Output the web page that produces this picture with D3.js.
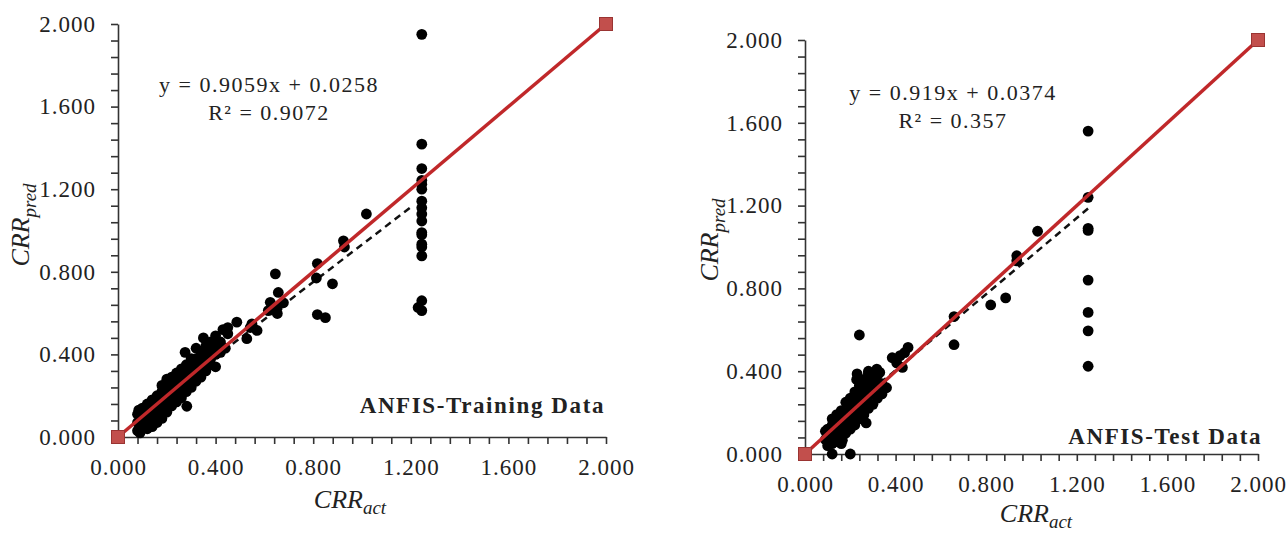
<!DOCTYPE html>
<html>
<head>
<meta charset="utf-8">
<script src="https://cdnjs.cloudflare.com/ajax/libs/d3/7.8.5/d3.min.js"></script>
<style>
  body { margin: 0; background: #fff; }
  text { font-family: "Liberation Serif", "DejaVu Serif", serif; fill: #222; }
</style>
</head>
<body>
<div id="chart"></div>
<script>
// Axis ticks (same for both panels)
var tickValues = [0, 0.4, 0.8, 1.2, 1.6, 2.0];
var tickLabels = ["0.000", "0.400", "0.800", "1.200", "1.600", "2.000"];

// 1:1 reference line (red, square markers at both ends)
var idealLine = [[0, 0], [2, 2]];

// ANFIS training data [CRR_act, CRR_pred]
var trainPoints = [
    [0.08, 0.03], [0.08, 0.07], [0.08, 0.11], [0.085, 0.13], [0.09, 0.02],
    [0.10, 0.04], [0.10, 0.08], [0.10, 0.12], [0.10, 0.14],
    [0.12, 0.04], [0.12, 0.07], [0.12, 0.10], [0.12, 0.13], [0.12, 0.16],
    [0.14, 0.05], [0.14, 0.08], [0.14, 0.11], [0.14, 0.14], [0.14, 0.18],
    [0.16, 0.07], [0.16, 0.10], [0.16, 0.13], [0.16, 0.16], [0.16, 0.20],
    [0.18, 0.09], [0.18, 0.12], [0.18, 0.15], [0.18, 0.18], [0.18, 0.22], [0.18, 0.25],
    [0.20, 0.12], [0.20, 0.15], [0.20, 0.18], [0.20, 0.21], [0.20, 0.24], [0.20, 0.28],
    [0.22, 0.15], [0.22, 0.18], [0.22, 0.22], [0.22, 0.26], [0.22, 0.29],
    [0.24, 0.17], [0.24, 0.20], [0.24, 0.24], [0.24, 0.28], [0.24, 0.31],
    [0.26, 0.19], [0.26, 0.22], [0.26, 0.26], [0.26, 0.30], [0.26, 0.33],
    [0.28, 0.22], [0.28, 0.25], [0.28, 0.29], [0.28, 0.32], [0.28, 0.35], [0.275, 0.41],
    [0.30, 0.24], [0.30, 0.27], [0.30, 0.31], [0.30, 0.34], [0.30, 0.38],
    [0.32, 0.27], [0.32, 0.30], [0.32, 0.34], [0.32, 0.38], [0.32, 0.43],
    [0.34, 0.29], [0.34, 0.33], [0.34, 0.37], [0.34, 0.41],
    [0.36, 0.32], [0.36, 0.35], [0.36, 0.40], [0.36, 0.44], [0.35, 0.48],
    [0.38, 0.35], [0.38, 0.38], [0.38, 0.43], [0.38, 0.46],
    [0.40, 0.34], [0.40, 0.40], [0.40, 0.44], [0.40, 0.49],
    [0.42, 0.41], [0.42, 0.46], [0.43, 0.52],
    [0.44, 0.43], [0.45, 0.50], [0.45, 0.53],
    [0.282, 0.149],
    [0.487, 0.556], [0.549, 0.548], [0.57, 0.516], [0.528, 0.476], [0.542, 0.53],
    [0.616, 0.612], [0.653, 0.627], [0.678, 0.65], [0.653, 0.598], [0.624, 0.652],
    [0.645, 0.79], [0.657, 0.70],
    [0.817, 0.84], [0.813, 0.77], [0.879, 0.742], [0.817, 0.593], [0.85, 0.578],
    [0.924, 0.95], [0.928, 0.92], [1.018, 1.08],
    [1.245, 1.95], [1.245, 1.418], [1.245, 1.30], [1.245, 1.243], [1.245, 1.224],
    [1.245, 1.20], [1.245, 1.142], [1.245, 1.11], [1.245, 1.08], [1.245, 1.046],
    [1.245, 0.99], [1.245, 0.98], [1.245, 0.934], [1.245, 0.92], [1.245, 0.877],
    [1.245, 0.66], [1.23, 0.627], [1.245, 0.612]
];

// ANFIS test data [CRR_act, CRR_pred]
var testPoints = [
    [0.09, 0.07], [0.09, 0.11],
    [0.10, 0.04], [0.10, 0.08], [0.10, 0.12],
    [0.12, 0.05], [0.12, 0.09], [0.12, 0.14], [0.12, 0.17],
    [0.14, 0.06], [0.14, 0.10], [0.14, 0.15], [0.14, 0.19],
    [0.16, 0.08], [0.16, 0.12], [0.16, 0.17], [0.16, 0.21],
    [0.18, 0.10], [0.18, 0.15], [0.18, 0.20], [0.18, 0.25],
    [0.20, 0.12], [0.20, 0.17], [0.20, 0.22], [0.20, 0.27],
    [0.22, 0.14], [0.22, 0.20], [0.22, 0.25], [0.22, 0.30],
    [0.24, 0.17], [0.24, 0.22], [0.24, 0.28], [0.24, 0.33],
    [0.26, 0.19], [0.26, 0.25], [0.26, 0.31], [0.26, 0.36],
    [0.28, 0.22], [0.28, 0.28], [0.28, 0.34], [0.28, 0.39],
    [0.30, 0.24], [0.30, 0.30], [0.30, 0.36],
    [0.32, 0.27], [0.32, 0.33], [0.32, 0.38],
    [0.34, 0.29], [0.34, 0.34], [0.36, 0.32],
    [0.12, 0.0], [0.20, 0.0], [0.165, 0.066], [0.16, 0.05], [0.27, 0.15],
    [0.228, 0.36], [0.23, 0.387], [0.28, 0.40], [0.317, 0.41], [0.33, 0.394],
    [0.24, 0.575],
    [0.405, 0.44], [0.42, 0.475], [0.455, 0.515], [0.43, 0.418], [0.385, 0.465], [0.44, 0.49],
    [0.658, 0.664], [0.658, 0.528], [0.82, 0.72], [0.886, 0.754],
    [0.935, 0.958], [0.935, 0.933], [1.027, 1.076],
    [1.25, 1.56], [1.25, 1.24], [1.25, 1.09], [1.25, 1.08],
    [1.25, 0.84], [1.25, 0.684], [1.25, 0.595], [1.25, 0.424]
];

// Linear trendlines: [slope, intercept, xStart, xEnd]
var trainFit = [0.9059, 0.0258, 0.08, 1.21];
var testFit = [0.919, 0.0374, 0.09, 1.25];

var trainEquation = ["y = 0.9059x + 0.0258", "R² = 0.9072"];
var testEquation = ["y = 0.919x + 0.0374", "R² = 0.357"];

var svgWidth = 1288;
var svgHeight = 534;

var svg = d3.select("#chart")
    .append("svg")
    .attr("width", svgWidth)
    .attr("height", svgHeight);

svg.append("rect").attr("width", svgWidth).attr("height", svgHeight).attr("fill", "#fff");

var minorTicks = d3.range(0, 2.0001, 0.08);

function drawPanel(p) {
    var xScale = d3.scaleLinear().domain([0, 2]).range([p.left, p.right]);
    var yScale = d3.scaleLinear().domain([0, 2]).range([p.bottom, p.top]);

    function fmt(d) {
        var i = tickValues.findIndex(t => Math.abs(t - d) < 1e-6);
        return i >= 0 ? tickLabels[i] : "";
    }

    // axes
    var leftAxis = d3.axisLeft(yScale)
        .tickValues(minorTicks).tickFormat(fmt)
        .tickSize(7).tickSizeOuter(0).tickPadding(15);
    var bottomAxis = d3.axisBottom(xScale)
        .tickValues(minorTicks).tickFormat(fmt)
        .tickSize(7).tickSizeOuter(0).tickPadding(p.xPad);

    var gy = svg.append("g")
        .attr("transform", "translate(" + p.left + ",0)")
        .call(leftAxis);
    var gx = svg.append("g")
        .attr("transform", "translate(0," + p.bottom + ")")
        .call(bottomAxis);

    [gx, gy].forEach(function (g) {
        g.selectAll("path, line").attr("stroke", "#333").attr("stroke-width", 1.6);
        g.selectAll("text")
            .style("font-family", "'Liberation Serif', serif")
            .style("font-size", "23px")
            .style("letter-spacing", "1px")
            .attr("fill", "#222");
    });

    // trendline (dashed)
    var fit = p.fit;
    svg.append("line")
        .attr("x1", xScale(fit[2])).attr("y1", yScale(fit[0] * fit[2] + fit[1]))
        .attr("x2", xScale(fit[3])).attr("y2", yScale(fit[0] * fit[3] + fit[1]))
        .attr("stroke", "#111").attr("stroke-width", 2.5)
        .attr("stroke-dasharray", "7,5");

    // points
    svg.append("g").selectAll("circle")
        .data(p.points)
        .enter()
        .append("circle")
        .attr("cx", d => xScale(d[0]))
        .attr("cy", d => yScale(d[1]))
        .attr("r", 5.4)
        .attr("fill", "#000");

    // 1:1 line with square markers
    svg.append("path")
        .datum(idealLine)
        .attr("d", d3.line().x(d => xScale(d[0])).y(d => yScale(d[1])))
        .attr("stroke", "#c0282a").attr("stroke-width", 3.5).attr("fill", "none");

    svg.append("g").selectAll("rect")
        .data(idealLine)
        .enter()
        .append("rect")
        .attr("x", d => xScale(d[0]) - 6.5)
        .attr("y", d => yScale(d[1]) - 6.5)
        .attr("width", 13).attr("height", 13)
        .attr("fill", "#c24f4c").attr("stroke", "#9a3432").attr("stroke-width", 1);

    // equation
    svg.selectAll(null)
        .data(p.equation)
        .enter()
        .append("text")
        .attr("x", p.eqX).attr("y", (d, i) => p.eqY + i * 28)
        .attr("text-anchor", "middle")
        .style("font-size", "22px")
        .style("letter-spacing", "1.5px")
        .text(d => d);

    // panel name
    svg.append("text")
        .attr("x", p.nameX).attr("y", p.nameY)
        .attr("text-anchor", "end")
        .style("font-size", "23px")
        .style("font-weight", "bold")
        .style("letter-spacing", "1.6px")
        .text(p.name);

    // axis titles
    var yt = svg.append("text")
        .attr("transform", "translate(" + p.yTitleX + "," + p.yTitleY + ") rotate(-90)")
        .attr("text-anchor", "middle")
        .style("font-style", "italic")
        .style("font-size", "26px");
    yt.append("tspan").text("CRR");
    yt.append("tspan").attr("dy", 7).style("font-size", "19px").text("pred");

    var xt = svg.append("text")
        .attr("x", p.xTitleX).attr("y", p.xTitleY)
        .attr("text-anchor", "middle")
        .style("font-style", "italic")
        .style("font-size", "26px");
    xt.append("tspan").text("CRR");
    xt.append("tspan").attr("dy", 6).style("font-size", "19px").text("act");
}

drawPanel({
    left: 118, right: 606, top: 24, bottom: 437, xPad: 15,
    points: trainPoints, fit: trainFit, equation: trainEquation,
    eqX: 269, eqY: 92,
    name: "ANFIS-Training Data", nameX: 605, nameY: 413,
    yTitleX: 29, yTitleY: 225, xTitleX: 350, xTitleY: 508
});

drawPanel({
    left: 805, right: 1258, top: 40, bottom: 454, xPad: 15,
    points: testPoints, fit: testFit, equation: testEquation,
    eqX: 953, eqY: 100,
    name: "ANFIS-Test Data", nameX: 1262, nameY: 444,
    yTitleX: 718, yTitleY: 240, xTitleX: 1036, xTitleY: 522
});
</script>
</body>
</html>
